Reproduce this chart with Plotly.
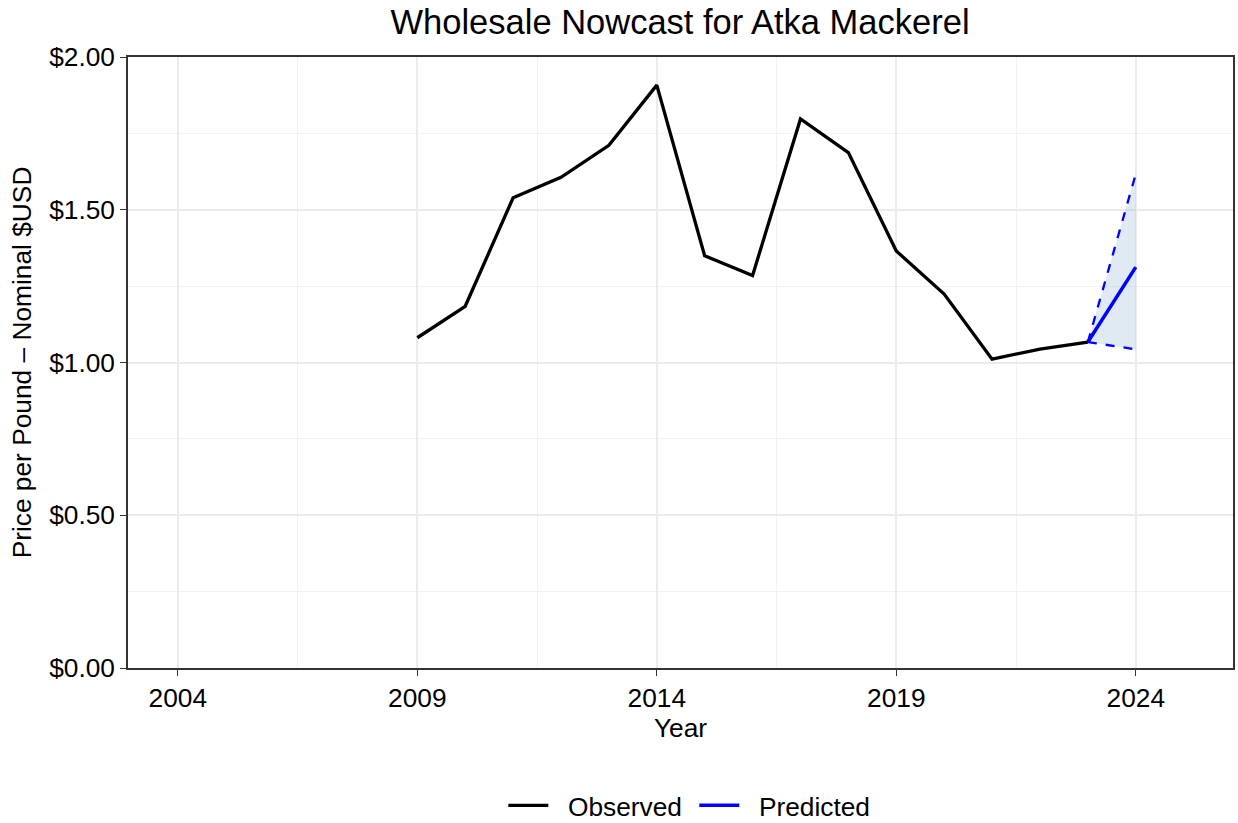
import plotly.graph_objects as go

# Observed wholesale prices ($/lb, nominal)
obs_years = [2009, 2010, 2011, 2012, 2013, 2014, 2015, 2016, 2017, 2018, 2019, 2020, 2021, 2022, 2023]
obs_price = [1.081, 1.184, 1.539, 1.606, 1.711, 1.908, 1.349, 1.285, 1.797, 1.687, 1.365, 1.224, 1.011, 1.044, 1.067]

# Nowcast from the last observed year
pred_years = [2023, 2024]
pred_price = [1.067, 1.312]
pred_upper = [1.067, 1.617]
pred_lower = [1.067, 1.043]

y_ticks = [0, 0.5, 1.0, 1.5, 2.0]
y_tick_labels = ["$0.00", "$0.50", "$1.00", "$1.50", "$2.00"]
x_ticks = [2004, 2009, 2014, 2019, 2024]

FONT = "Liberation Sans, Arial, Helvetica, sans-serif"
BLUE = "#0000FF"
TXT = 26.3
PAD = "\u00a0\u00a0"  # breathing room between legend key and label

fig = go.Figure()

# Prediction interval ribbon
fig.add_trace(go.Scatter(x=pred_years, y=pred_lower, mode="lines",
                         line=dict(width=0, color="rgba(0,0,0,0)"),
                         showlegend=False, hoverinfo="skip"))
fig.add_trace(go.Scatter(x=pred_years, y=pred_upper, mode="lines",
                         line=dict(width=0, color="rgba(0,0,0,0)"),
                         fill="tonexty", fillcolor="rgba(70,130,180,0.17)",
                         showlegend=False, hoverinfo="skip"))

# Interval bounds
for bound in (pred_upper, pred_lower):
    fig.add_trace(go.Scatter(x=pred_years, y=bound, mode="lines",
                             line=dict(color=BLUE, width=2.3, dash="dash"),
                             showlegend=False, hoverinfo="skip"))

fig.add_trace(go.Scatter(x=obs_years, y=obs_price, mode="lines", name=PAD + "Observed\u00a0",
                         line=dict(color="black", width=3.3)))
fig.add_trace(go.Scatter(x=pred_years, y=pred_price, mode="lines", name=PAD + "Predicted",
                         line=dict(color=BLUE, width=3.5)))

axis_common = dict(
    showline=True, linecolor="#333333", linewidth=1.5, mirror=True,
    ticks="outside", ticklen=6, tickcolor="#333333", tickwidth=1.3,
    showgrid=True, gridcolor="#EBEBEB", gridwidth=1.6,
    tickfont=dict(family=FONT, size=TXT, color="black"),
    zeroline=False, automargin=False,
)

fig.update_layout(
    width=1238, height=823,
    paper_bgcolor="white", plot_bgcolor="white",
    margin=dict(l=128, r=5, t=57, b=155),
    font=dict(family=FONT, color="black"),
    title=dict(text="Wholesale Nowcast for Atka Mackerel", x=0.5493, xanchor="center",
               y=0.973, yanchor="middle", font=dict(family=FONT, size=34.5, color="black")),
    xaxis=dict(axis_common, range=[2002.96, 2026.03], tickvals=x_ticks,
               minor=dict(showgrid=True, gridcolor="#F2F2F2", gridwidth=0.8, ticks="",
                          tickvals=[2006.5, 2011.5, 2016.5, 2021.5]),
               title=dict(text="Year", font=dict(family=FONT, size=TXT), standoff=1)),
    yaxis=dict(axis_common, range=[0, 2], tickvals=y_ticks, ticktext=y_tick_labels,
               minor=dict(showgrid=True, gridcolor="#F2F2F2", gridwidth=0.8, ticks="",
                          tickvals=[0.25, 0.75, 1.25, 1.75]),
               title=dict(text="Price per Pound \u2013 Nominal $USD",
                          font=dict(family=FONT, size=TXT), standoff=10)),
    legend=dict(orientation="h", x=0.508, xanchor="center",
                yref="container", y=0.021, yanchor="middle",
                traceorder="normal",
                font=dict(family=FONT, size=TXT, color="black"),
                itemwidth=40, tracegroupgap=0),
    showlegend=True,
)

fig.write_html("out.html")
